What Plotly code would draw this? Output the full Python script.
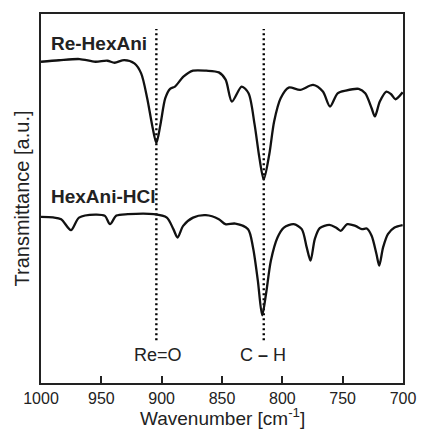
import plotly.graph_objects as go

# Wavenumbers (cm^-1) and transmittance (arbitrary units)
re_wn = [1000, 985, 968, 955, 945, 939, 931, 922.6, 917, 912, 908, 904.4, 901, 897, 893, 889,
         882, 874, 863, 852.6, 847, 841.8, 833.7, 828, 823, 819, 815.4, 810.8, 806.8, 801.4,
         794.7, 785.2, 774.5, 766.4, 760.5, 754.2, 747.5, 736.7, 731.3, 726, 723.3, 719.2,
         713.8, 709.8, 706.3, 700.3]
re_t = [323, 324.5, 325.7, 323, 324, 322, 324.7, 321.3, 311.3, 286.3, 260, 241.3, 260, 286.3,
        295.7, 298, 308, 314, 314, 312.3, 305, 283, 298, 291.3, 260, 226.3, 204.7, 230, 263,
        286.3, 297, 294.7, 299.7, 293, 278, 291.3, 294, 295.7, 291.3, 276.3, 268, 283, 293,
        290.3, 285.3, 292.3]

hcl_wn = [1000, 990, 983.3, 975.2, 968.5, 955, 947, 942.8, 937.5, 928, 906.5, 895.7, 890.3,
          886.8, 882.2, 874, 863.4, 852.6, 847.2, 839, 828.4, 824.3, 820.3, 816.7, 813.5,
          809.5, 804, 798.7, 790.6, 783.9, 779.8, 776.6, 773.1, 769, 761, 755.6, 751.6, 746.2,
          739.5, 734, 730, 726, 722, 719.7, 716.5, 712.5, 707, 700.3]
hcl_t = [167, 166.5, 164.7, 153.7, 166.3, 169.3, 168, 159.7, 168.3, 169.7, 169.7, 166.3, 154.7,
         146.3, 158, 166.3, 168.7, 164.7, 159.7, 160.3, 154.7, 136.3, 103, 68, 89.7, 123, 146.3,
         156.3, 159.7, 154.7, 136.3, 123, 144.7, 155.7, 159, 156.3, 153, 159.7, 158, 154.7,
         155.3, 148, 129.7, 118, 136.3, 149.7, 156.3, 158.7]

marker_wn = [904.4, 815.4]
marker_labels = ["Re=O", "C <b>\u2013</b> H"]
marker_span = [43, 356]

series_labels = ["Re-HexAni", "HexAni-HCl"]
series_label_y = [341, 188]

xticks = [1000, 950, 900, 850, 800, 750, 700]

FONT = "Liberation Sans, Arial, sans-serif"
TXT = "#222222"

fig = go.Figure()
for w in marker_wn:
    fig.add_trace(go.Scatter(x=[w, w], y=marker_span, mode="lines",
                             line=dict(color="black", width=2.4, dash="2px,3px"),
                             hoverinfo="skip", showlegend=False))
for wn, t in [(re_wn, re_t), (hcl_wn, hcl_t)]:
    fig.add_trace(go.Scatter(x=wn, y=t, mode="lines",
                             line=dict(color="#111111", width=2.3, shape="spline", smoothing=0.8),
                             showlegend=False))

for lab, yv in zip(series_labels, series_label_y):
    fig.add_annotation(x=993, y=yv, text="<b>" + lab + "</b>", showarrow=False,
                       xanchor="left", yanchor="middle",
                       font=dict(family=FONT, size=19, color=TXT))
for w, lab, dx in zip(marker_wn, marker_labels, [-1.5, 0.5]):
    fig.add_annotation(x=w + dx, y=28, text=lab, showarrow=False,
                       xanchor="center", yanchor="middle",
                       font=dict(family=FONT, size=18, color=TXT))

fig.add_annotation(x=0.5, y=0, xref="paper", yref="paper", yshift=-34,
                   text="Wavenumber [cm<sup>-1</sup>]", showarrow=False,
                   xanchor="center", yanchor="middle",
                   font=dict(family=FONT, size=19, color=TXT))

fig.update_layout(
    width=428, height=432,
    margin=dict(l=41, r=15, t=12, b=49),
    paper_bgcolor="white", plot_bgcolor="white",
    font=dict(family=FONT, size=17, color=TXT),
    xaxis=dict(range=[1000, 700], tickvals=xticks, ticks="inside", ticklen=7, tickwidth=2,
               tickcolor=TXT, showline=True, linewidth=2, linecolor=TXT,
               mirror=True, showgrid=False, zeroline=False,
               tickfont=dict(family=FONT, size=16, color=TXT)),
    yaxis=dict(range=[0, 371], showticklabels=False, ticks="", showline=True, linewidth=2,
               linecolor=TXT, mirror=True, showgrid=False, zeroline=False,
               title=dict(text="Transmittance [a.u.]", standoff=4,
                          font=dict(family=FONT, size=20, color=TXT))),
)

fig.write_html("out.html")
